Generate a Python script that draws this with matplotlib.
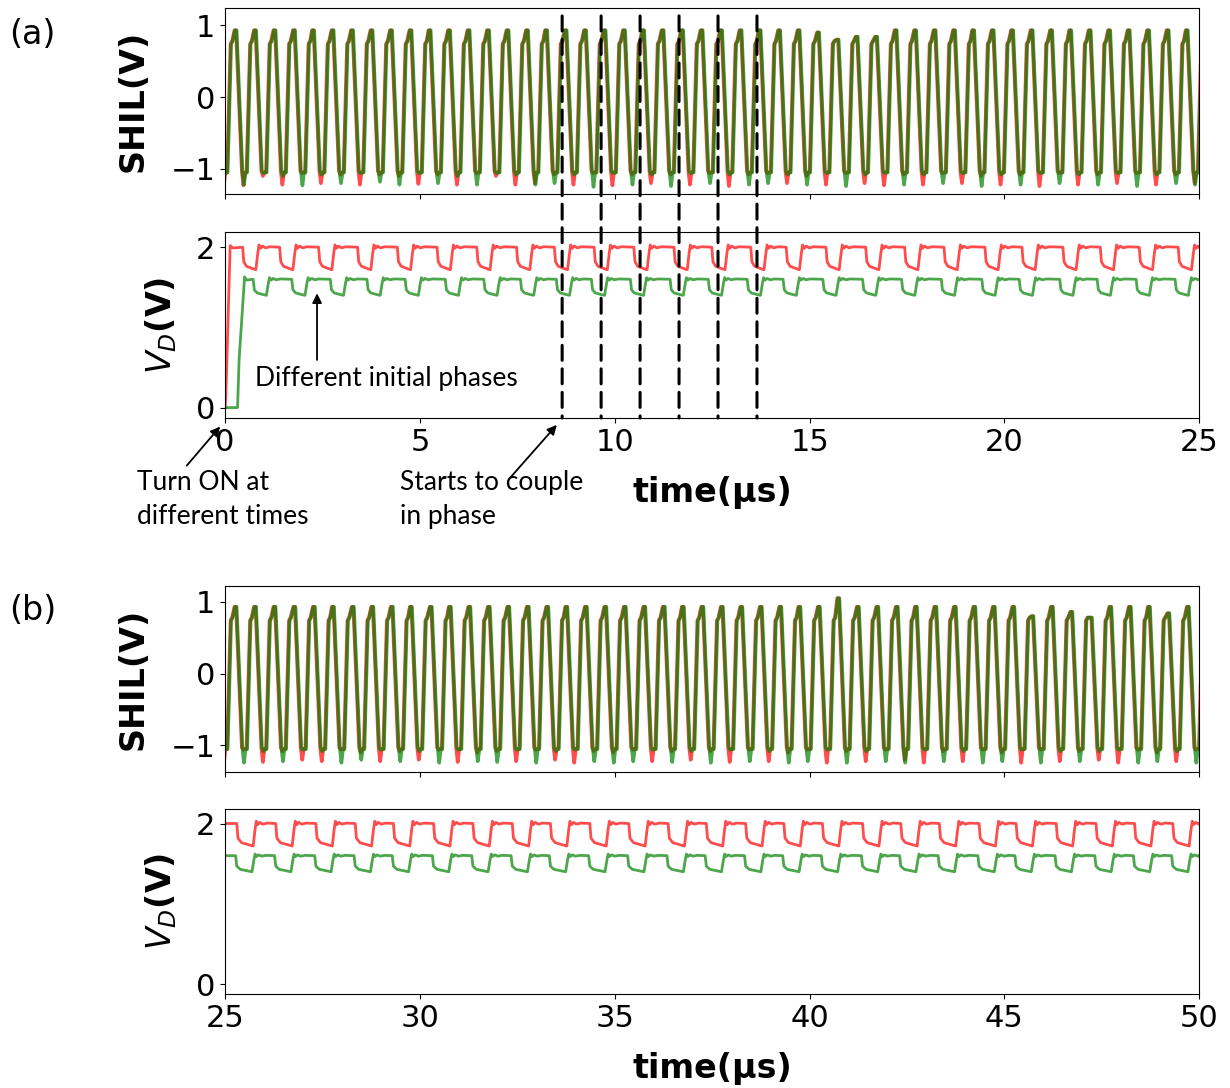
import matplotlib
matplotlib.use("Agg")
import matplotlib.pyplot as plt
from matplotlib.patches import ConnectionPatch

# ---- DATA ---------------------------------------------------------------

# SHIL: start time (us) of the top of each 0.5 us cycle
shil_a_start = [
    -0.26, 0.24, 0.74, 1.24, 1.74, 2.23, 2.73, 3.23, 3.73, 4.23,
    4.73, 5.22, 5.72, 6.22, 6.72, 7.22, 7.72, 8.21, 8.71, 9.21,
    9.71, 10.21, 10.70, 11.20, 11.70, 12.20, 12.70, 13.20, 13.69, 14.19,
    14.69, 15.19, 15.69, 16.18, 16.68, 17.18, 17.68, 18.18, 18.68, 19.17,
    19.67, 20.17, 20.67, 21.17, 21.66, 22.16, 22.66, 23.16, 23.66, 24.16,
    24.65, 25.15,
]
shil_b_start = [
    24.74, 25.24, 25.74, 26.24, 26.75, 27.25, 27.74, 28.25, 28.75, 29.25,
    29.74, 30.25, 30.74, 31.24, 31.74, 32.24, 32.74, 33.24, 33.73, 34.23,
    34.73, 35.23, 35.73, 36.23, 36.72, 37.22, 37.72, 38.22, 38.72, 39.22,
    39.71, 40.21, 40.71, 41.21, 41.71, 42.21, 42.70, 43.20, 43.70, 44.20,
    44.70, 45.20, 45.69, 46.19, 46.69, 47.19, 47.69, 48.19, 48.68, 49.18,
    49.68, 50.18,
]
# top level of each cycle (V)
shil_a_peak = [
    0.93, 0.93, 0.93, 0.93, 0.93, 0.93, 0.93, 0.93, 0.93, 0.93,
    0.93, 0.93, 0.93, 0.93, 0.93, 0.93, 0.93, 0.93, 0.93, 0.93,
    0.93, 0.93, 0.93, 0.93, 0.93, 0.93, 0.93, 0.93, 0.93, 0.93,
    0.93, 0.90, 0.80, 0.84, 0.84, 0.93, 0.93, 0.93, 0.93, 0.93,
    0.93, 0.93, 0.93, 0.93, 0.93, 0.93, 0.93, 0.93, 0.93, 0.93,
    0.93, 0.93,
]
shil_b_peak = [
    0.93, 0.93, 0.93, 0.93, 0.93, 0.93, 0.93, 0.93, 0.93, 0.93,
    0.93, 0.93, 0.93, 0.93, 0.93, 0.93, 0.93, 0.93, 0.93, 0.93,
    0.93, 0.93, 0.93, 0.93, 0.93, 0.93, 0.93, 0.93, 0.93, 0.93,
    0.93, 0.93, 1.05, 0.93, 0.93, 0.93, 0.93, 0.93, 0.93, 0.93,
    0.93, 0.93, 0.80, 0.93, 0.86, 0.78, 0.93, 0.93, 0.93, 0.84,
    0.93, 0.93,
]
# bottom of each cycle (V)
shil_a_red_min = [
    -1.22, -1.23, -1.10, -1.22, -1.06, -1.20, -1.08, -1.22, -1.08, -1.10,
    -1.21, -1.08, -1.22, -1.06, -1.10, -1.22, -1.20, -1.08, -1.22, -1.06,
    -1.23, -1.08, -1.20, -1.08, -1.22, -1.06, -1.24, -1.08, -1.06, -1.20,
    -1.10, -1.22, -1.06, -1.20, -1.23, -1.08, -1.22, -1.06, -1.20, -1.10,
    -1.22, -1.08, -1.24, -1.06, -1.22, -1.08, -1.20, -1.06, -1.22, -1.08,
    -1.20, -1.10,
]
shil_a_green_min = [
    -1.08, -1.22, -1.06, -1.10, -1.23, -1.08, -1.20, -1.06, -1.18, -1.22,
    -1.06, -1.20, -1.10, -1.22, -1.06, -1.08, -1.22, -1.20, -1.08, -1.25,
    -1.06, -1.22, -1.08, -1.24, -1.06, -1.20, -1.08, -1.22, -1.20, -1.08,
    -1.22, -1.06, -1.24, -1.08, -1.06, -1.22, -1.08, -1.20, -1.06, -1.24,
    -1.08, -1.22, -1.06, -1.20, -1.08, -1.22, -1.06, -1.24, -1.08, -1.20,
    -1.22, -1.08,
]
shil_b_red_min = [
    -1.24, -1.06, -1.23, -1.08, -1.20, -1.22, -1.06, -1.10, -1.22, -1.08,
    -1.20, -1.06, -1.23, -1.10, -1.08, -1.22, -1.06, -1.20, -1.24, -1.08,
    -1.10, -1.06, -1.22, -1.08, -1.20, -1.08, -1.23, -1.06, -1.22, -1.10,
    -1.06, -1.24, -1.08, -1.22, -1.06, -1.20, -1.24, -1.08, -1.22, -1.06,
    -1.10, -1.24, -1.06, -1.22, -1.08, -1.20, -1.24, -1.06, -1.10, -1.22,
    -1.06, -1.10,
]
shil_b_green_min = [
    -1.08, -1.24, -1.08, -1.22, -1.06, -1.08, -1.24, -1.20, -1.06, -1.22,
    -1.08, -1.24, -1.06, -1.22, -1.23, -1.06, -1.24, -1.08, -1.06, -1.22,
    -1.24, -1.22, -1.06, -1.23, -1.08, -1.24, -1.06, -1.22, -1.08, -1.24,
    -1.22, -1.06, -1.24, -1.08, -1.22, -1.24, -1.06, -1.22, -1.08, -1.24,
    -1.22, -1.06, -1.24, -1.08, -1.22, -1.08, -1.06, -1.24, -1.22, -1.08,
    -1.24, -1.08,
]
shil_green_lag = 0.015  # us

# one SHIL cycle: time after start of top (us), level (V)
shil_cycle_t = [0.00, 0.04, 0.19, 0.23, 0.27, 0.31, 0.40, 0.44]
shil_cycle_v = ["top", "top", -1.03, "low", -1.05, -1.05, 0.74, 0.78]

# V_D: time (us) at which each dip starts
vd_a_red_fall = [
    0.45, 1.40, 2.40, 3.40, 4.42, 5.44, 6.46, 7.48, 8.45, 9.47,
    10.49, 11.52, 12.49, 13.49, 14.40, 15.42, 16.44, 17.44, 18.45, 19.50,
    20.45, 21.50, 22.46, 23.46, 24.46,
]
vd_a_green_fall = [
    0.72, 1.71, 2.70, 3.64, 4.62, 5.65, 6.64, 7.58, 8.50, 9.40,
    10.40, 11.42, 12.40, 13.40, 14.32, 15.34, 16.36, 17.36, 18.38, 19.42,
    20.38, 21.42, 22.38, 23.38, 24.38,
]
vd_b_red_fall = [
    25.30, 26.30, 27.33, 28.34, 29.32, 30.35, 31.36, 32.37, 33.35, 34.36,
    35.36, 36.37, 37.35, 38.36, 39.34, 40.33, 41.36, 42.34, 43.33, 44.35,
    45.30, 46.33, 47.35, 48.34, 49.32,
]
vd_b_green_fall = [
    25.27, 26.27, 27.30, 28.31, 29.29, 30.32, 31.33, 32.34, 33.32, 34.33,
    35.33, 36.34, 37.32, 38.33, 39.31, 40.30, 41.33, 42.31, 43.30, 44.32,
    45.27, 46.30, 47.32, 48.31, 49.29,
]
# dip shape: time after dip start (us) and level (0 = low, 1 = high)
vd_a_knot_t = [0.00, 0.03, 0.10, 0.28, 0.34, 0.39, 0.42, 0.46, 0.51, 0.59, 0.70]
vd_b_knot_t = [0.00, 0.03, 0.12, 0.36, 0.42, 0.47, 0.50, 0.54, 0.59, 0.67, 0.78]
vd_knot_n = [1.00, 0.35, 0.15, 0.03, 0.00, 0.75, 1.10, 0.95, 1.05, 0.97, 1.02]
vd_red_levels = (1.72, 2.00)
vd_green_levels = (1.40, 1.60)
# turn-on at the start of (a)
vd_red_on_t, vd_red_on_v = [0.0, 0.02, 0.13, 0.20], [0.0, 0.15, 2.02, 1.99]
vd_green_on_t = [0.0, 0.32, 0.36, 0.50, 0.55]
vd_green_on_v = [0.0, 0.0, 0.6, 1.63, 1.59]

couple_t = [8.65, 9.65, 10.65, 11.65, 12.65, 13.65]


def shil_trace(starts, peaks, mins, lag=0.0):
    t, v = [], []
    for s, p, m in zip(starts, peaks, mins):
        for kt, kv in zip(shil_cycle_t, shil_cycle_v):
            t.append(s + lag + kt)
            v.append(p if kv == "top" else m if kv == "low" else kv)
    return t, v


def vd_trace(t0, v0, falls, knot_t, levels, t_end):
    low, high = levels
    t, v = list(t0), list(v0)
    for f in falls:
        t += [f + k for k in knot_t]
        v += [low + n * (high - low) for n in vd_knot_n]
    t.append(t_end)
    v.append(high)
    return t, v


# ---- FIGURE -------------------------------------------------------------

fig = plt.figure(figsize=(12.3, 10.88), dpi=100)
left, width = 0.183, 0.792
ax1 = fig.add_axes([left, 0.8217, width, 0.1709])
ax2 = fig.add_axes([left, 0.6158, width, 0.1710])
ax3 = fig.add_axes([left, 0.2904, width, 0.1710])
ax4 = fig.add_axes([left, 0.0864, width, 0.1700])

red = dict(color="red", alpha=0.7)
green = dict(color="green", alpha=0.7)

# (a) SHIL
ax1.plot(*shil_trace(shil_a_start, shil_a_peak, shil_a_red_min), lw=2.6, **red)
ax1.plot(*shil_trace(shil_a_start, shil_a_peak, shil_a_green_min, shil_green_lag),
         lw=2.6, **green)
# (a) V_D
ax2.plot(*vd_trace(vd_red_on_t, vd_red_on_v, vd_a_red_fall, vd_a_knot_t,
                   vd_red_levels, 25.0), lw=2.0, **red)
ax2.plot(*vd_trace(vd_green_on_t, vd_green_on_v, vd_a_green_fall, vd_a_knot_t,
                   vd_green_levels, 25.0), lw=2.0, **green)
# (b) SHIL
ax3.plot(*shil_trace(shil_b_start, shil_b_peak, shil_b_red_min), lw=2.6, **red)
ax3.plot(*shil_trace(shil_b_start, shil_b_peak, shil_b_green_min, shil_green_lag),
         lw=2.6, **green)
# (b) V_D
ax4.plot(*vd_trace([25.0], [vd_red_levels[1]], vd_b_red_fall, vd_b_knot_t,
                   vd_red_levels, 50.0), lw=2.0, **red)
ax4.plot(*vd_trace([25.0], [vd_green_levels[1]], vd_b_green_fall, vd_b_knot_t,
                   vd_green_levels, 50.0), lw=2.0, **green)

for ax, xl, yl in [(ax1, (0, 25), (-1.35, 1.24)), (ax2, (0, 25), (-0.13, 2.19)),
                   (ax3, (25, 50), (-1.37, 1.22)), (ax4, (25, 50), (-0.12, 2.18))]:
    ax.set_xlim(xl)
    ax.set_ylim(yl)
    ax.tick_params(labelsize=22)

for ax in (ax1, ax3):
    ax.set_yticks([-1, 0, 1])
    ax.set_xticks(range(int(ax.get_xlim()[0]), int(ax.get_xlim()[1]) + 1, 5))
    ax.set_xticklabels([])
    ax.set_ylabel("SHIL(V)", fontsize=24, fontweight="bold", labelpad=15)
for ax in (ax2, ax4):
    ax.set_yticks([0, 2])
    ax.set_xticks(range(int(ax.get_xlim()[0]), int(ax.get_xlim()[1]) + 1, 5))
    ax.set_ylabel(r"$V_D$(V)", fontsize=24, fontweight="bold", labelpad=12)
    ax.set_xlabel("time(µs)", fontsize=24, fontweight="bold", labelpad=14)

# dashed lines where the two oscillators couple
for t in couple_t:
    con = ConnectionPatch(xyA=(t, 1.13), coordsA=ax1.transData,
                          xyB=(t, ax2.get_ylim()[0]), coordsB=ax2.transData,
                          color="black", lw=2.2, linestyle=(0, (4.9, 2.8)),
                          zorder=5)
    fig.add_artist(con)

# annotations
note = dict(fontsize=19, family=["Lato", "DejaVu Sans"], linespacing=1.45)
arrow = dict(arrowstyle="-|>", color="black", lw=1.3, mutation_scale=14)
ax2.text(-2.26, -0.78, "Turn ON at\ndifferent times", ha="left", va="top", **note)
ax2.text(4.50, -0.78, "Starts to couple\nin phase", ha="left", va="top", **note)
ax2.text(0.77, 0.36, "Different initial phases", ha="left", va="center", **note)
ax2.annotate("", xy=(-0.08, -0.21), xytext=(-1.03, -0.75), arrowprops=arrow,
             annotation_clip=False)
ax2.annotate("", xy=(8.56, -0.19), xytext=(7.27, -0.90), arrowprops=arrow,
             annotation_clip=False)
ax2.annotate("", xy=(2.36, 1.46), xytext=(2.36, 0.56), arrowprops=arrow,
             annotation_clip=False)

fig.text(9 / 1230, 1 - 34 / 1088, "(a)", fontsize=24, va="center")
fig.text(9 / 1230, 1 - 610 / 1088, "(b)", fontsize=24, va="center")

fig.savefig("out.png", dpi=100)
